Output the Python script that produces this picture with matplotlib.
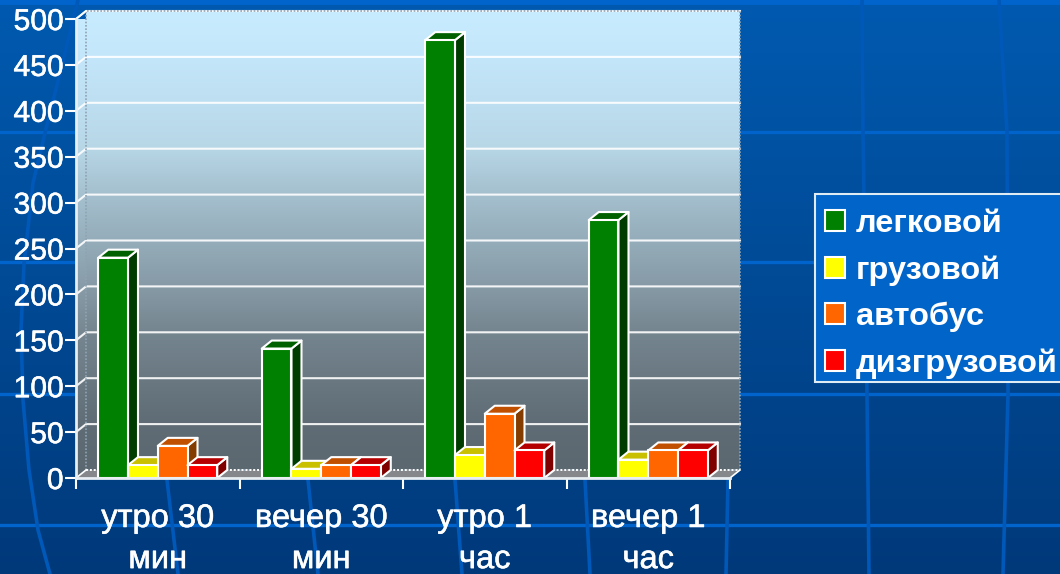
import numpy as np
import matplotlib
matplotlib.use("Agg")
import matplotlib.pyplot as plt
import matplotlib.patheffects as pe
from matplotlib.colors import LinearSegmentedColormap
from matplotlib.patches import Patch, Polygon, Rectangle

plt.rcParams['font.family'] = ['Liberation Sans', 'DejaVu Sans']

categories = ["утро 30\nмин", "вечер 30\nмин", "утро 1\nчас", "вечер 1\nчас"]
series_names = ["легковой", "грузовой", "автобус", "дизгрузовой"]
cars = [240, 141, 477, 281]
trucks = [14, 10, 25, 20]
buses = [35, 14, 70, 30]
heavy = [14, 14, 30, 30]
y_ticks = [0, 50, 100, 150, 200, 250, 300, 350, 400, 450, 500]

front_colors = ["#008000", "#ffff00", "#ff6600", "#ff0000"]
top_colors = ["#006000", "#c8c000", "#c05000", "#b40000"]
side_colors = ["#003c00", "#a0a000", "#843c00", "#800000"]

W, H = 1060, 574
fig = plt.figure(figsize=(W / 100, H / 100), dpi=100)

# slide background
bg = fig.add_axes([0, 0, 1, 1])
bg_cmap = LinearSegmentedColormap.from_list("bg", ["#005ab0", "#00397a"])
bg.imshow(np.linspace(0, 1, 256).reshape(-1, 1), cmap=bg_cmap, extent=[0, W, H, 0], aspect="auto")
bg.axis("off")
for y in [132, 262, 394, 525]:
    bg.plot([0, W], [y, y], color="#0064cc", lw=2.4)
bg.plot([0, W], [1, 1], color="#0064cc", lw=5)
bg.plot([862, 863, 867, 869], [0, 132, 394, 574], color="#0058b8", lw=2.6)
bg.plot([999, 1007, 1008, 1003], [0, 132, 394, 574], color="#0058b8", lw=2.6)
bg.plot([78, 62, 45, 33, 24, 21, 23, 29, 38, 50],
        [0, 65, 133, 183, 264, 330, 400, 470, 530, 574], color="#0058b8", lw=2.6)
for x0, x1 in [(167, 178), (308, 318), (455, 462), (585, 590), (728, 726)]:
    bg.plot([x0, x1], [480, 574], color="#0058b8", lw=2.6)
bg.set_xlim(0, W)
bg.set_ylim(H, 0)

# plot area is the front plane of the 3d box
ax = fig.add_axes([76 / W, (H - 478) / H, 654 / W, 459 / H])
ax.patch.set_alpha(0)
x_max = len(categories)
y_max = 500
depth_x = 10 / (654 / x_max)
depth_y = 8 / (459 / y_max)

wall_cmap = LinearSegmentedColormap.from_list("wall", [
    (0.0, "#c8ecff"), (0.1, "#c4e6fa"), (0.29, "#b8d8e8"), (0.40, "#a4bfce"),
    (0.60, "#869aa6"), (0.70, "#75858f"), (0.90, "#5f6c75"), (1.0, "#5c6870")])
grad = np.linspace(0, 1, 256).reshape(-1, 1)
ax.imshow(grad, cmap=wall_cmap, aspect="auto", clip_on=False, zorder=1,
          extent=[depth_x, x_max + depth_x, depth_y, y_max + depth_y])
side_img = ax.imshow(grad, cmap=wall_cmap, aspect="auto", zorder=1,
                     extent=[0, depth_x, 0, y_max + depth_y])
side_clip = Polygon([(0, 0), (depth_x, depth_y), (depth_x, y_max + depth_y), (0, y_max)],
                    transform=ax.transData, fill=False, ec="none")
ax.add_patch(side_clip)
side_img.set_clip_path(side_clip)
ax.add_patch(Polygon([(0, 0), (x_max, 0), (x_max + depth_x, depth_y), (depth_x, depth_y)],
                     fc="#85878a", ec="none", clip_on=False, zorder=1))

# gridlines run along the back wall and step down the left wall
for v in y_ticks[1:]:
    ax.plot([0, depth_x, x_max + depth_x], [v, v + depth_y, v + depth_y],
            color="white", lw=1.5, clip_on=False, zorder=2, alpha=0.9)
# dotted wall outline
ax.plot([depth_x, depth_x, x_max + depth_x, x_max + depth_x, depth_x],
        [depth_y, y_max + depth_y, y_max + depth_y, depth_y, depth_y],
        color="#8fa3b3", lw=1.2, ls=(0, (1, 1)), clip_on=False, zorder=2)
ax.plot([depth_x, x_max + depth_x], [depth_y, depth_y], color="white", lw=1.4,
        ls=(0, (1, 1)), clip_on=False, zorder=2)
ax.plot([x_max, x_max + depth_x], [0, depth_y], color="white", lw=1.2, clip_on=False, zorder=2)
ax.plot([0, depth_x], [0, depth_y], color="white", lw=1.2, clip_on=False, zorder=2)
ax.plot([0, 0, depth_x], [y_max, y_max, y_max + depth_y], color="white", lw=1.2, clip_on=False, zorder=2)

series = [cars, trucks, buses, heavy]
bar_w = 0.182
z = 3
for i in range(len(categories)):
    for s, values in enumerate(series):
        x0 = i + 0.136 + s * bar_w
        x1 = x0 + bar_w
        v = values[i]
        common = dict(ec="white", lw=1.5, clip_on=False, joinstyle="round")
        ax.add_patch(Polygon([(x1, 0), (x1 + depth_x, depth_y), (x1 + depth_x, v + depth_y), (x1, v)],
                             fc=side_colors[s], zorder=z, **common))
        ax.add_patch(Polygon([(x0, v), (x1, v), (x1 + depth_x, v + depth_y), (x0 + depth_x, v + depth_y)],
                             fc=top_colors[s], zorder=z, **common))
        ax.add_patch(Polygon([(x0, 0), (x1, 0), (x1, v), (x0, v)],
                             fc=front_colors[s], zorder=z, **common))
        z += 1

ax.set_xlim(0, x_max)
ax.set_ylim(0, y_max)
for name in ["top", "right"]:
    ax.spines[name].set_visible(False)
for name in ["left", "bottom"]:
    ax.spines[name].set_color("#e8eef2")
    ax.spines[name].set_linewidth(2)
    ax.spines[name].set_zorder(2.5)
ax.spines["bottom"].set_zorder(50)

glow = [pe.withStroke(linewidth=0.4, foreground="white")]
ax.set_yticks(y_ticks)
ax.set_xticks(range(x_max + 1))
ax.set_xticklabels([])
ax.set_xticks(np.arange(x_max) + 0.5, categories, minor=True)
ax.tick_params(axis="y", length=8, width=1.5, color="white", labelcolor="white", labelsize=21.6, pad=1)
ax.tick_params(axis="x", which="major", length=8, width=1.5, color="white")
ax.tick_params(axis="x", which="minor", length=0, labelcolor="white", labelsize=23.5, pad=18)
for label in ax.get_yticklabels():
    label.set_path_effects(glow)
for label in ax.get_xticklabels(minor=True):
    label.set_path_effects(glow)
    label.set_linespacing(1.42)

# legend box runs off the right edge of the picture, rows sit low in it
fig.add_artist(Rectangle((815 / W, 1 - 382 / H), 260 / W, 188 / H, transform=fig.transFigure,
                         fc="#0064c8", ec="#e0ecf4", lw=1.5, zorder=59))
handles = [Patch(fc=c, ec="white", lw=1.5) for c in front_colors]
leg = fig.legend(handles, series_names, loc="upper left", bbox_to_anchor=(814 / W, 1 - 198 / H),
                 bbox_transform=fig.transFigure, borderaxespad=0, frameon=False, labelcolor="white",
                 prop=dict(family="Liberation Sans", weight="bold", size=23.4),
                 handlelength=0.62, handleheight=0.62, handletextpad=0.32, labelspacing=0.5,
                 borderpad=0.34)
leg.set_zorder(60)

fig.savefig("out.png", dpi=100)
